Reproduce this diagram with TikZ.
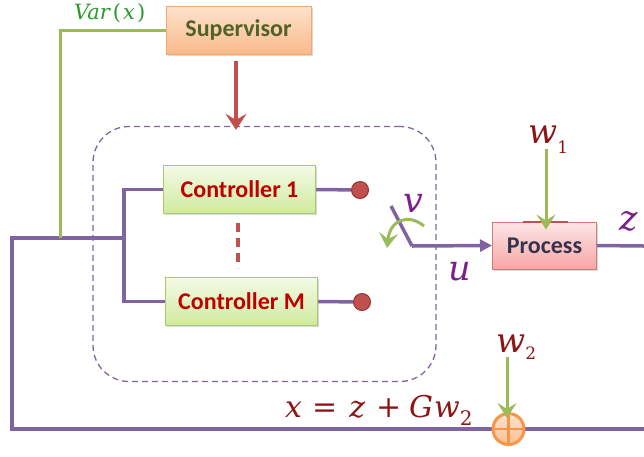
\documentclass[tikz,border=0pt]{standalone}
\usepackage{fontspec}
\usetikzlibrary{arrows.meta,shadows,backgrounds}
\newfontfamily\boxfont{Carlito}
\newfontfamily\eqfont{DejaVu Serif}

\definecolor{wirepurple}{HTML}{8064A2}
\definecolor{sigpurple}{HTML}{7A1F8C}
\definecolor{sigred}{HTML}{8C1515}
\definecolor{sigline}{HTML}{9BBB59}
\definecolor{vargreen}{HTML}{2A9A2A}
\definecolor{arrowred}{HTML}{C0504D}
\definecolor{supborder}{HTML}{F5A66E}
\definecolor{suptop}{HTML}{FDE3CC}
\definecolor{supbot}{HTML}{F9B98A}
\definecolor{suptext}{HTML}{4F6228}
\definecolor{ctlborder}{HTML}{A9C96A}
\definecolor{ctltop}{HTML}{F4FAE6}
\definecolor{ctlbot}{HTML}{CFEA9E}
\definecolor{ctltext}{HTML}{C00000}
\definecolor{procborder}{HTML}{D9787A}
\definecolor{proctop}{HTML}{FDE6E6}
\definecolor{procbot}{HTML}{F6A6A6}
\definecolor{proctext}{HTML}{34344E}
\definecolor{sumorange}{HTML}{F79646}
\definecolor{sumtop}{HTML}{FDE4CE}
\definecolor{sumbot}{HTML}{F9BE8E}
\definecolor{dotred}{HTML}{C0504D}
\definecolor{dotedge}{HTML}{963634}

\begin{document}
\begin{tikzpicture}[x=1pt,y=-1pt,
  boxbase/.style={draw, line width=1pt, inner sep=0pt,
    font=\boxfont\bfseries\fontsize{24}{26}\selectfont,
    drop shadow={opacity=0.3, shadow xshift=1.5pt, shadow yshift=-1.5pt}},
  supbox/.style={boxbase, draw=supborder, top color=suptop, bottom color=supbot,
    text=suptext, minimum width=145pt, minimum height=48pt},
  ctlbox/.style={boxbase, draw=ctlborder, top color=ctltop, bottom color=ctlbot,
    text=ctltext, minimum width=152pt, minimum height=48pt},
  procbox/.style={boxbase, draw=procborder, top color=proctop, bottom color=procbot,
    text=proctext, minimum width=104pt, minimum height=47pt},
  groupframe/.style={draw=wirepurple, line width=1.3pt, dash pattern=on 6pt off 4pt,
    rounded corners=36pt, minimum width=343pt, minimum height=255pt},
  tapdot/.style={circle, draw=dotedge, line width=1pt, fill=dotred,
    minimum size=17pt, inner sep=0pt},
  sumjunction/.style={circle, draw=sumorange, line width=3pt, top color=sumtop,
    bottom color=sumbot, minimum size=31pt, inner sep=0pt,
    path picture={\draw[sumorange, line width=2.6pt]
      (path picture bounding box.north) -- (path picture bounding box.south)
      (path picture bounding box.west) -- (path picture bounding box.east);}},
  wire/.style={draw=wirepurple, line width=3.5pt},
  feedarrow/.style={wire, -{Triangle[length=12pt,width=12pt]}},
  greenline/.style={draw=sigline, line width=3pt},
  greenarrow/.style={greenline, -{Stealth[length=15pt,width=19pt,inset=6pt]}},
  redarrow/.style={draw=arrowred, line width=4pt, -{Stealth[length=16pt,width=21pt,inset=6pt]}},
  reddash/.style={draw=arrowred, line width=3.5pt, dash pattern=on 9pt off 6pt},
  lbl/.style={inner sep=0pt, anchor=base west},
  purplelbl/.style={lbl, text=sigpurple, font=\eqfont\itshape\fontsize{35}{35}\selectfont},
  redlbl/.style={lbl, text=sigred, font=\eqfont\itshape\fontsize{34}{34}\selectfont}
]
\useasboundingbox (0,0) rectangle (644,456);

% blocks
\node[supbox] (sup) at (238.5,30) {Supervisor};
\node[groupframe] (grp) at (264.5,254) {};
\node[ctlbox] (c1) at (239.5,189.5) {Controller 1};
\node[ctlbox] (cm) at (241.5,301.5) {Controller M};
\node[procbox] (proc) at (544.5,245.5) {Process};
\node[tapdot] (d1) at (360,190) {};
\node[tapdot] (dm) at (362,302) {};
\node[sumjunction] (sum) at (508.5,429) {};

% routing points
\coordinate (split) at (124,238);
\coordinate (fbL) at (12,238);
\coordinate (fbB) at (12,429);
\coordinate (bottomR) at (644,429);
\coordinate (zR) at (644,246);
\coordinate (tapV) at (60,238);
\coordinate (swA) at (391,206);
\coordinate (swB) at (412,246);
\coordinate (rotA) at (424,226);
\coordinate (rotB) at (387,248);
\coordinate (w1src) at (546,149);
\coordinate (w2src) at (507,357);

% signal labels
\node[lbl, text=vargreen, font=\eqfont\fontsize{21}{21}\selectfont] (lvar) at (74,19)
  {\itshape Var\upshape\hspace{3pt}(\hspace{2pt}\itshape x\upshape\hspace{2pt})};
\node[purplelbl] (lv) at (403,212) {v};
\node[purplelbl] (lu) at (448,280) {u};
\node[purplelbl] (lz) at (619,230) {z};
\node[redlbl] (lw1) at (528,143) {w\raisebox{-10pt}{\upshape\fontsize{17}{17}\selectfont 1}};
\node[redlbl] (lw2) at (496,352) {w\raisebox{-7pt}{\upshape\fontsize{17}{17}\selectfont 2}};
\node[lbl, text=sigred, font=\eqfont\fontsize{30}{30}\selectfont] (lx) at (285,417)
  {\itshape x\upshape\hspace{10pt}=\hspace{12pt}\itshape z\upshape\hspace{11pt}+\hspace{8pt}\itshape G\hspace{1pt}w\raisebox{-8pt}{\upshape\fontsize{20}{20}\selectfont 2}};

\begin{pgfonlayer}{background}
  % controller bus and feedback path
  \draw[wire] (c1.west) -| (split) |- (cm.west);
  \draw[wire] (split) -- (fbL) -- (fbB) -- (bottomR);
  \draw[wire] (c1.east) -- (d1);
  \draw[wire] (cm.east) -- (dm);
  % switch and process
  \draw[wire] (swA) -- (swB);
  \draw[feedarrow] (swB) -- (proc.west);
  \draw[wire] (proc.east) -- (zR);
  % supervisor measurement
  \draw[greenline] (sup.west) -| (tapV);
\end{pgfonlayer}

% supervisor command
\draw[redarrow] ([xshift=-2.5pt,yshift=-6pt]sup.south) -- ([xshift=-28.5pt,yshift=-4pt]grp.north);
\draw[reddash] ([xshift=-1.5pt,yshift=-9pt]c1.south) -- ([xshift=-3.5pt,yshift=9pt]cm.north);
% highlight on process input
\draw[draw=arrowred, line width=2pt] ([xshift=-22pt]proc.north) -- ([xshift=23pt]proc.north);
% disturbances and switch rotation
\draw[greenarrow] (w1src) -- ([xshift=1.5pt,yshift=-8pt]proc.north);
\draw[greenarrow] (w2src) -- ([xshift=-1.5pt,yshift=-6pt]sum.north);
\draw[greenarrow] (rotA) .. controls (408,213) and (390,220) .. (rotB);
\end{tikzpicture}
\end{document}
